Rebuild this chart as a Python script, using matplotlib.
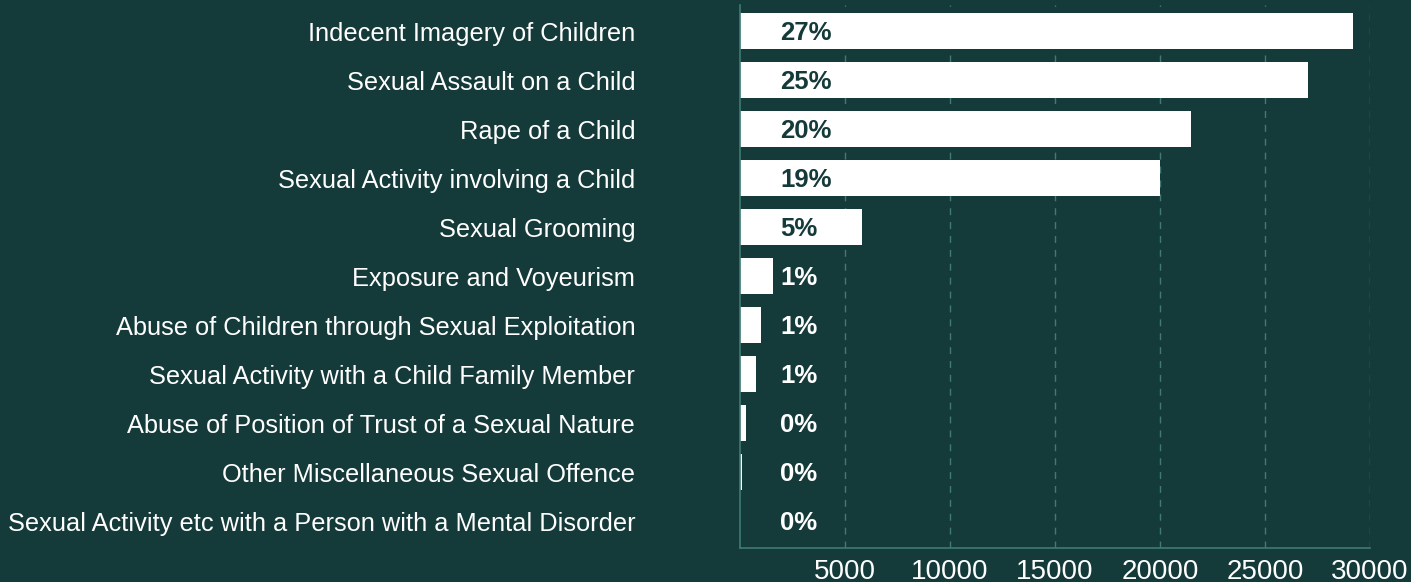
import matplotlib
matplotlib.use("Agg")
import matplotlib.pyplot as plt

# offence categories, top to bottom
categories = [
    "Indecent Imagery of Children",
    "Sexual Assault on a Child",
    "Rape of a Child",
    "Sexual Activity involving a Child",
    "Sexual Grooming",
    "Exposure and Voyeurism",
    "Abuse of Children through Sexual Exploitation",
    "Sexual Activity with a Child Family Member",
    "Abuse of Position of Trust of a Sexual Nature",
    "Other Miscellaneous Sexual Offence",
    "Sexual Activity etc with a Person with a Mental Disorder",
]
counts = [29200, 27050, 21450, 20000, 5800, 1550, 1000, 750, 280, 90, 20]
shares = ["27%", "25%", "20%", "19%", "5%", "1%", "1%", "1%", "0%", "0%", "0%"]
xticks = [5000, 10000, 15000, 20000, 25000, 30000]

BG = "#153a3a"
GRID = "#3f7a76"
FONT = "Liberation Sans"

fig = plt.figure(figsize=(14.11, 5.82), dpi=100, facecolor=BG)
ax = fig.add_axes([0.5245, 0.058, 0.4465, 0.933], facecolor=BG)

y = list(range(len(categories)))
ax.barh(y, counts, height=0.73, color="white", zorder=2)

label_x = 1900
for yi, c, s in zip(y, counts, shares):
    col = BG if c > label_x + 2500 else "white"
    ax.text(label_x, yi + 0.03, s, va="center", ha="left", color=col,
            fontsize=18.5, fontweight="bold", family=FONT, zorder=3)

ax.set_xlim(0, 30000)
ax.set_ylim(len(categories) - 0.45, -0.53)
ax.set_yticks(y)
ax.set_yticklabels(categories, family=FONT, fontsize=18.3, color="white")
ax.set_xticks(xticks)
ax.set_xticklabels([str(t) for t in xticks], family=FONT, fontsize=20, color="white")
ax.tick_params(axis="y", length=0, pad=75.5)
ax.tick_params(axis="x", length=0, pad=8)

ax.grid(axis="x", color=GRID, linestyle=(0, (5, 5)), linewidth=1, zorder=0)
for side in ("top", "right"):
    ax.spines[side].set_visible(False)
for side in ("left", "bottom"):
    ax.spines[side].set_color(GRID)
    ax.spines[side].set_linewidth(1.2)

fig.savefig("out.png", dpi=100, facecolor=BG)
